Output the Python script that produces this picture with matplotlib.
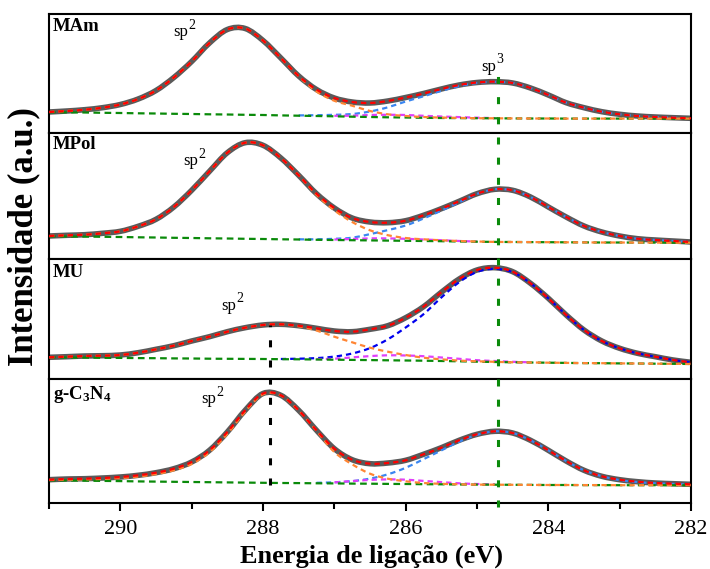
import numpy as np
import matplotlib
matplotlib.use("Agg")
import matplotlib.pyplot as plt
from matplotlib.lines import Line2D
from matplotlib.path import Path
from matplotlib.patches import PathPatch
from matplotlib.transforms import blended_transform_factory

plt.rcParams['font.family'] = ['Liberation Serif', 'DejaVu Serif']
plt.rcParams['mathtext.fontset'] = 'custom'
plt.rcParams['mathtext.rm'] = 'Liberation Serif'
plt.rcParams['mathtext.bf'] = 'Liberation Serif:bold'
plt.rcParams['mathtext.it'] = 'Liberation Serif:italic'

# binding energy grid (eV), 0.25 eV steps
energy = [291.0, 290.75, 290.5, 290.25, 290.0, 289.75, 289.5, 289.25, 289.0,
          288.75, 288.5, 288.25, 288.0, 287.75, 287.5, 287.25, 287.0, 286.75,
          286.5, 286.25, 286.0, 285.75, 285.5, 285.25, 285.0, 284.75, 284.5,
          284.25, 284.0, 283.75, 283.5, 283.25, 283.0, 282.75, 282.5, 282.25, 282.0]

samples = ['MAm', 'MPol', 'MU', 'g-C$_\\mathbf{3}$N$_\\mathbf{4}$']

# measured C 1s spectra (a.u.)
mam_raw = [21.0, 22.0, 23.3, 25.3, 28.5, 34.0, 42.5, 55.5, 71.5, 90.0, 103.5, 104.5, 92.5,
           75.0, 57.0, 43.5, 35.0, 31.0, 30.0, 32.0, 35.5, 39.5, 44.0, 48.0, 50.5, 51.3,
           50.0, 45.0, 38.0, 30.3, 25.3, 21.3, 18.7, 17.0, 16.0, 15.3, 14.7]
mpol_raw = [23.0, 23.7, 24.3, 25.7, 27.7, 32.7, 39.7, 52.0, 68.7, 87.7, 106.3, 116.3, 113.7,
            101.0, 83.7, 65.3, 51.0, 41.0, 37.0, 36.3, 38.3, 43.7, 50.3, 57.7, 65.3, 69.7,
            68.7, 62.0, 52.0, 42.0, 33.0, 27.0, 23.0, 20.3, 19.0, 18.0, 17.0]
mu_raw = [21.7, 22.3, 23.0, 23.3, 24.0, 26.3, 29.7, 33.3, 38.0, 42.3, 47.3, 51.3, 54.0,
          54.7, 53.3, 50.7, 48.0, 47.3, 49.7, 53.3, 61.3, 72.3, 86.7, 100.0, 109.0, 111.3,
          107.3, 95.7, 80.7, 64.0, 49.0, 38.0, 30.7, 25.7, 22.3, 19.0, 16.7]
gcn_raw = [23.3, 24.0, 24.3, 25.0, 26.0, 27.7, 30.3, 34.3, 41.0, 52.7, 71.0, 92.7, 109.5,
           107.7, 92.7, 72.7, 54.3, 43.3, 39.3, 40.0, 42.7, 48.7, 55.3, 62.7, 68.7, 71.7,
           70.0, 62.7, 52.7, 42.0, 32.7, 26.7, 23.3, 21.3, 20.0, 19.3, 18.7]

# Shirley-type backgrounds
mam_bg = [20.8, 20.6, 20.5, 20.2, 20.0, 19.7, 19.5, 19.2, 19.0, 18.7, 18.5, 18.2, 18.0,
          17.6, 17.3, 17.0, 16.7, 16.3, 16.0, 15.7, 15.5, 15.2, 15.0, 14.9, 14.8, 14.7,
          14.6, 14.5, 14.5, 14.4, 14.4, 14.4, 14.4, 14.4, 14.4, 14.4, 14.4]
mpol_bg = [22.7, 22.5, 22.4, 22.2, 22.0, 21.7, 21.5, 21.2, 21.0, 20.7, 20.5, 20.2, 20.0,
           19.7, 19.5, 19.2, 19.0, 18.8, 18.6, 18.4, 18.2, 18.0, 17.8, 17.5, 17.3, 17.1,
           17.0, 16.9, 16.8, 16.7, 16.6, 16.5, 16.5, 16.4, 16.4, 16.3, 16.3]
mu_bg = [21.7, 21.5, 21.4, 21.2, 21.1, 20.9, 20.8, 20.6, 20.5, 20.3, 20.2, 20.1, 20.0,
         19.8, 19.7, 19.5, 19.3, 19.1, 18.9, 18.7, 18.5, 18.3, 18.0, 17.7, 17.3, 17.0,
         16.7, 16.5, 16.3, 16.1, 15.9, 15.8, 15.6, 15.5, 15.3, 15.2, 15.0]
gcn_bg = [22.7, 22.5, 22.3, 22.1, 21.9, 21.6, 21.4, 21.2, 21.0, 20.8, 20.6, 20.4, 20.2,
          20.0, 19.9, 19.7, 19.6, 19.4, 19.3, 19.1, 19.0, 18.8, 18.7, 18.5, 18.4, 18.3,
          18.2, 18.1, 18.0, 18.0, 17.9, 17.9, 17.8, 17.8, 17.8, 17.8, 17.8]

# fitted components, height above background: sp2 (C=N), sp3 (C-C), extra
mam_sp2 = [0.2, 1.4, 2.8, 5.1, 8.5, 14.3, 23.0, 36.3, 52.5, 71.3, 85.0, 86.3, 74.5, 57.4,
           39.4, 24.5, 15.5, 11.0, 6.0, 3.0, 1.5, 0.8, 0.4, 0.2, 0, 0, 0, 0, 0, 0, 0, 0,
           0, 0, 0, 0, 0]
mam_sp3 = [0, 0, 0, 0, 0, 0, 0, 0, 0, 0, 0, 0, 0, 0, 0.3, 0.8, 1.5, 2.7, 5.5, 10.0, 16.0,
           21.5, 27.1, 31.9, 35.2, 36.4, 35.4, 30.5, 23.5, 15.9, 10.9, 6.9, 4.3, 2.6, 1.6,
           0.9, 0.3]
mam_x = [0, 0, 0, 0, 0, 0, 0, 0, 0, 0, 0, 0, 0, 0, 0, 0, 0.5, 1.0, 2.0, 2.5, 2.5, 2.0,
         1.5, 1.0, 0.5, 0.2, 0, 0, 0, 0, 0, 0, 0, 0, 0, 0, 0]

mpol_sp2 = [0.3, 1.2, 1.9, 3.5, 5.7, 11.0, 18.2, 30.8, 47.7, 67.0, 85.8, 96.1, 93.7, 81.3,
            64.2, 45.0, 29.7, 18.2, 10.1, 5.4, 2.8, 1.7, 0.9, 0.5, 0.2, 0, 0, 0, 0, 0, 0,
            0, 0, 0, 0, 0, 0]
mpol_sp3 = [0, 0, 0, 0, 0, 0, 0, 0, 0, 0, 0, 0, 0, 0, 0.2, 0.5, 1.2, 2.5, 6.3, 10.5, 15.3,
            22.5, 30.6, 39.2, 47.8, 52.6, 51.7, 45.1, 35.2, 25.3, 16.4, 10.5, 6.5, 3.9,
            2.6, 1.7, 0.7]
mpol_x = [0, 0, 0, 0, 0, 0, 0, 0, 0, 0, 0, 0, 0, 0, 0, 0, 0.5, 1.2, 2.0, 2.2, 2.0, 1.5,
          1.0, 0.5, 0.2, 0, 0, 0, 0, 0, 0, 0, 0, 0, 0, 0, 0]

mu_sp2 = [0.0, 0.8, 1.6, 2.1, 2.9, 5.4, 8.9, 12.7, 17.5, 22.0, 27.1, 31.2, 34.0, 34.9,
          33.0, 29.0, 23.0, 17.6, 12.4, 8.6, 5.5, 3.0, 1.7, 0.7, 0.4, 0.2, 0, 0, 0, 0, 0,
          0, 0, 0, 0, 0, 0]
mu_sp3 = [0, 0, 0, 0, 0, 0, 0, 0, 0, 0, 0, 0, 0, 0.2, 0.6, 1.4, 3.1, 6.4, 12.0, 21.0,
          33.0, 46.5, 63.5, 79.1, 89.8, 93.1, 90.1, 79.2, 64.4, 47.9, 33.1, 22.2, 15.1,
          10.2, 7.0, 3.8, 1.7]
mu_x = [0, 0, 0, 0, 0, 0, 0, 0, 0, 0, 0, 0, 0, 0, 0, 0.4, 1.0, 2.5, 4.0, 5.0, 5.0, 4.5,
        3.5, 2.5, 1.5, 1.0, 0.5, 0.2, 0, 0, 0, 0, 0, 0, 0, 0, 0]

gcn_sp2 = [0.3, 0.8, 1.3, 2.0, 3.0, 4.8, 7.5, 11.5, 18.0, 30.0, 48.5, 71.0, 88.5, 87.5,
           72.5, 52.5, 31.4, 19.3, 10.0, 5.2, 2.7, 1.2, 0.5, 0.2, 0, 0, 0, 0, 0, 0, 0, 0,
           0, 0, 0, 0, 0]
gcn_sp3 = [0, 0, 0, 0, 0, 0, 0, 0, 0, 0, 0, 0, 0, 0, 0, 0.5, 1.1, 2.5, 5.1, 9.6, 16.2,
           25.0, 33.9, 42.8, 49.7, 53.4, 51.8, 44.6, 34.7, 24.0, 14.8, 8.9, 5.1, 3.1, 1.9,
           1.2, 0.6]
gcn_x = [0, 0, 0, 0, 0, 0, 0, 0, 0, 0, 0, 0, 0, 0, 0, 0, 1.0, 2.5, 3.8, 4.5, 4.3, 3.3,
         2.2, 1.2, 0.6, 0.3, 0, 0, 0, 0, 0, 0, 0, 0, 0, 0, 0]

sp2_pos = 287.9
sp3_pos = 284.7

raws = [mam_raw, mpol_raw, mu_raw, gcn_raw]
bgs = [mam_bg, mpol_bg, mu_bg, gcn_bg]
sp2s = [mam_sp2, mpol_sp2, mu_sp2, gcn_sp2]
sp3s = [mam_sp3, mpol_sp3, mu_sp3, gcn_sp3]
extras = [mam_x, mpol_x, mu_x, gcn_x]


def spline_path(x, y):
    # Catmull-Rom through the points, written as cubic Bezier segments
    xp = np.concatenate([[2 * x[0] - x[1]], x, [2 * x[-1] - x[-2]]])
    yp = np.concatenate([[2 * y[0] - y[1]], y, [2 * y[-1] - y[-2]]])
    verts = [(x[0], y[0])]
    codes = [Path.MOVETO]
    for j in range(1, len(x)):
        c1 = (xp[j] + (xp[j + 1] - xp[j - 1]) / 6, yp[j] + (yp[j + 1] - yp[j - 1]) / 6)
        c2 = (xp[j + 1] - (xp[j + 2] - xp[j]) / 6, yp[j + 1] - (yp[j + 2] - yp[j]) / 6)
        verts += [c1, c2, (xp[j + 1], yp[j + 1])]
        codes += [Path.CURVE4] * 3
    return Path(verts, codes)


def smooth(ax, x, y, **kw):
    x = np.asarray(x, float)
    y = np.asarray(y, float)
    idx = np.where(~np.isnan(y))[0]
    for run in np.split(idx, np.where(np.diff(idx) > 1)[0] + 1):
        if len(run) > 1:
            ax.add_patch(PathPatch(spline_path(x[run], y[run]), fill=False, **kw))


W, H = 710, 569
panel_h = [119, 126, 120, 124]
blue_cols = ['#3a86f0', '#3a86f0', '#0000ee', '#3a86f0']
dash = (0, (2.4, 1.8))

fig = plt.figure(figsize=(W / 100, H / 100), dpi=100)
gs = fig.add_gridspec(4, 1, left=49 / W, right=691 / W, top=1 - 14 / H,
                      bottom=1 - 503 / H, hspace=0, height_ratios=panel_h)
axes = [fig.add_subplot(gs[i]) for i in range(4)]

E = np.array(energy)
for i, ax in enumerate(axes):
    bg = np.array(bgs[i])
    sp3 = np.array(sp3s[i], float)
    ext = np.array(extras[i], float)
    smooth(ax, E, raws[i], edgecolor='#5a5a5a', lw=4.0, capstyle='round',
           joinstyle='round', zorder=2)
    smooth(ax, E, np.where(sp3 > 0, bg + sp3, np.nan), edgecolor=blue_cols[i], lw=1.6,
           linestyle=dash, zorder=2.5)
    smooth(ax, E, np.where(ext > 0, bg + ext, np.nan), edgecolor='#e040fb', lw=1.6,
           linestyle=dash, zorder=2.6)
    smooth(ax, E, bg, edgecolor='#0a8a0a', lw=1.6, linestyle=(0, (3, 2)), zorder=3)
    smooth(ax, E, bg + np.array(sp2s[i]), edgecolor='#ff8533', lw=1.6, linestyle=dash,
           zorder=3.5)
    smooth(ax, E, raws[i], edgecolor='#ff0000', lw=1.6, linestyle=dash, zorder=5)
    ax.set_xlim(291, 282)
    ax.set_ylim(0, panel_h[i])
    ax.set_yticks([])
    for s in ax.spines.values():
        s.set_linewidth(1.5)
    if i < 3:
        ax.tick_params(axis='x', which='both', bottom=False, labelbottom=False)

axb = axes[3]
axb.set_xticks([290, 288, 286, 284, 282])
axb.set_xticks([291, 289, 287, 285, 283], minor=True)
axb.tick_params(axis='x', which='major', length=6, width=1.5, labelsize=16, pad=6)
axb.tick_params(axis='x', which='minor', length=4, width=1.5)

# sp2 markers
axes[2].axvline(sp2_pos, ymin=12 / 120, ymax=54 / 120, color='black', lw=2.2,
                dashes=(2.3, 4.3), zorder=6)
axes[3].axvline(sp2_pos, ymin=18 / 124, ymax=1.0, color='black', lw=2.2,
                dashes=(2.3, 4.3), zorder=6)

# sp3 marker running through all panels
tr = blended_transform_factory(axb.transData, fig.transFigure)
fig.add_artist(Line2D([sp3_pos, sp3_pos], [1 - 507 / H, 1 - 76 / H], transform=tr,
                      color='#0a8a0a', lw=2.2, dashes=(2.3, 4.3), zorder=10))


def ptext(px, py, s, **kw):
    kw.setdefault('ha', 'left')
    kw.setdefault('va', 'baseline')
    fig.text(px / W, 1 - py / H, s, **kw)


label_y = [31, 149, 277, 399]
for name, y in zip(samples, label_y):
    ptext(53, y, name, fontsize=13.5, fontweight='bold')

# peak labels
for sx, sy, sup in [(173, 36.5, '2'), (481, 70.7, '3'), (183, 165.3, '2'),
                    (221.7, 310, '2'), (201.7, 403.3, '2')]:
    ptext(sx, sy, 'sp', fontsize=12)
    ptext(sx + 15, sy - 7.5, sup, fontsize=10)

ptext(371, 563, 'Energia de ligação (eV)', ha='center', fontsize=19, fontweight='bold')
fig.text(24 / W, 1 - 237 / H, 'Intensidade (a.u.)', rotation=90, ha='center',
         va='center', fontsize=25, fontweight='bold')

fig.savefig('out.png', dpi=100)
